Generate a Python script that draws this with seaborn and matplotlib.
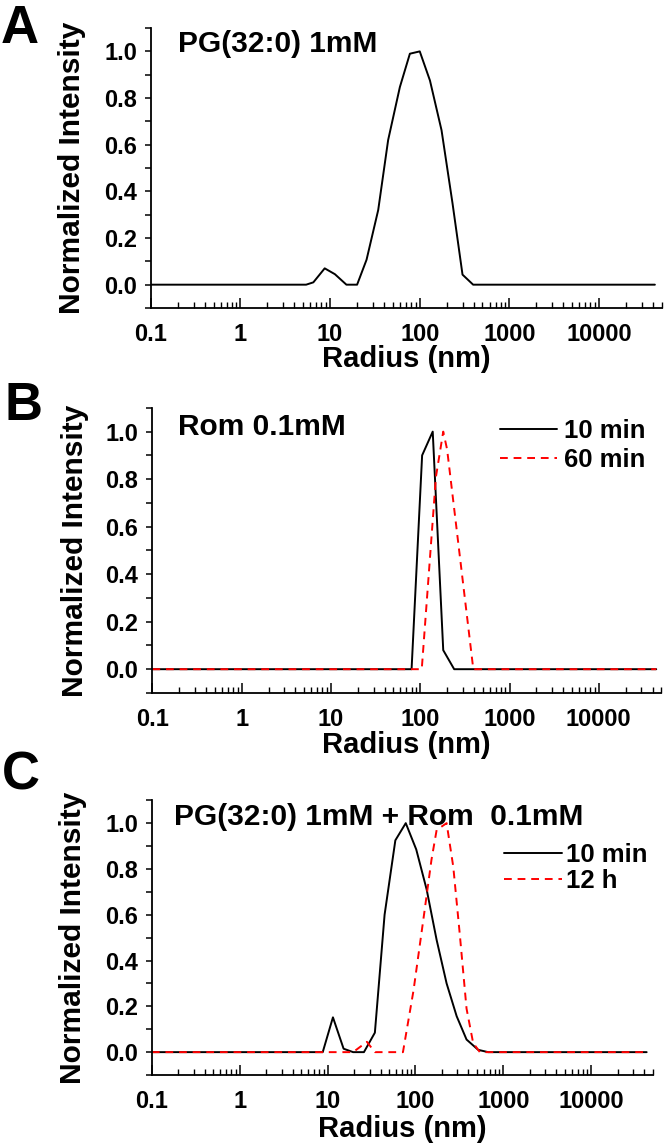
import matplotlib
matplotlib.use('Agg')
import matplotlib.pyplot as plt
import matplotlib.ticker as mticker
import seaborn as sns

# panel A: PG(32:0) 1mM
a_radius = [0.1, 5.4, 6.5, 8.7, 11.3, 15.2, 20, 25.5, 34.4, 44.4, 60, 77.6, 100, 130, 175, 232, 300, 394, 42000]
a_int = [0, 0, 0.01, 0.07, 0.045, 0, 0, 0.107, 0.32, 0.62, 0.847, 0.99, 1.0, 0.875, 0.662, 0.349, 0.043, 0, 0]

# panel B: Rom 0.1mM
b_radius_10 = [0.1, 80, 105, 138, 181, 240, 44000]
b_int_10 = [0, 0, 0.90, 1.0, 0.08, 0, 0]
b_radius_60 = [0.1, 104, 150, 181, 200, 393, 44000]
b_int_60 = [0, 0, 0.81, 1.0, 0.925, 0, 0]

# panel C: PG(32:0) 1mM + Rom 0.1mM
c_radius_10 = [0.1, 8.8, 11.5, 15.2, 19.5, 25.9, 34.5, 44.5, 59, 77.5, 102, 134, 174, 226, 294, 381, 517, 671, 42700]
c_int_10 = [0, 0, 0.152, 0.015, 0, 0, 0.085, 0.60, 0.925, 1.0, 0.885, 0.71, 0.49, 0.30, 0.157, 0.055, 0.01, 0, 0]
c_radius_12 = [0.1, 19.5, 28, 34.5, 72, 95, 125, 152, 174, 226, 269, 320, 381, 453, 540, 42700]
c_int_12 = [0, 0, 0.045, 0, 0, 0.27, 0.60, 0.84, 0.97, 1.0, 0.81, 0.51, 0.19, 0.04, 0, 0]

xticks = [0.1, 1, 10, 100, 1000, 10000]

sns.set_style('ticks')
plt.rcParams['font.family'] = ['Liberation Sans', 'DejaVu Sans']
plt.rcParams['font.weight'] = 'bold'
plt.rcParams['axes.labelweight'] = 'bold'
plt.rcParams['text.color'] = 'black'
plt.rcParams['axes.labelcolor'] = 'black'
plt.rcParams['xtick.color'] = 'black'
plt.rcParams['ytick.color'] = 'black'

W, H = 666, 1145
fig = plt.figure(figsize=(W / 100, H / 100), dpi=100)


def px(x, y):
    return x / W, 1 - y / H


def setup(ax, xlab_y, ylab_x):
    ax.set_xscale('log')
    ax.set_xlim(0.1, 5e4)
    ax.set_ylim(-0.1, 1.1)
    ax.xaxis.set_major_locator(mticker.FixedLocator(xticks))
    ax.xaxis.set_major_formatter(mticker.FuncFormatter(lambda v, p: f'{v:g}'))
    ax.xaxis.set_minor_locator(mticker.LogLocator(base=10, subs=range(2, 10), numticks=20))
    ax.xaxis.set_minor_formatter(mticker.NullFormatter())
    ax.yaxis.set_major_locator(mticker.MultipleLocator(0.2))
    ax.yaxis.set_minor_locator(mticker.MultipleLocator(0.1))
    ax.yaxis.set_major_formatter(mticker.FormatStrFormatter('%.1f'))
    for s in ['top', 'right']:
        ax.spines[s].set_visible(False)
    for s in ['left', 'bottom']:
        ax.spines[s].set_linewidth(1.3)
        ax.spines[s].set_color('black')
    ax.tick_params(axis='x', which='major', direction='in', length=7.5, width=1.1, pad=10.5,
                   labelsize=17, colors='black')
    ax.tick_params(axis='x', which='minor', direction='in', length=4, width=1.0, colors='black')
    ax.tick_params(axis='y', which='both', direction='out', length=4, width=1.1, pad=6,
                   labelsize=17, colors='black')
    for lab in ax.get_xticklabels() + ax.get_yticklabels():
        lab.set_fontweight('bold')
    ax.set_xlabel('Radius (nm)', fontsize=21, fontweight='bold', color='black')
    ax.set_ylabel('Normalized Intensity', fontsize=21.5, fontweight='bold', color='black')
    ax.xaxis.set_label_coords(0.5, xlab_y)
    ax.yaxis.set_label_coords(ylab_x, 0.5)
    ax.set_facecolor('white')


axA = fig.add_axes([0.2265, 0.731, 0.767, 0.2445])
sns.lineplot(x=a_radius, y=a_int, ax=axA, color='black', linewidth=1.4)
setup(axA, -0.132, -0.127)

axB = fig.add_axes([0.2288, 0.3948, 0.764, 0.249])
sns.lineplot(x=b_radius_10, y=b_int_10, ax=axB, color='black', linewidth=1.4, label='10 min')
sns.lineplot(x=b_radius_60, y=b_int_60, ax=axB, color='red', linewidth=1.4, label='60 min')
axB.lines[1].set_dashes((4, 3))
setup(axB, -0.132, -0.125)

axC = fig.add_axes([0.228, 0.0611, 0.752, 0.240])
sns.lineplot(x=c_radius_10, y=c_int_10, ax=axC, color='black', linewidth=1.4, label='10 min')
sns.lineplot(x=c_radius_12, y=c_int_12, ax=axC, color='red', linewidth=1.4, label='12 h')
axC.lines[1].set_dashes((4, 3))
setup(axC, -0.146, -0.130)

axB.legend(loc='upper left', bbox_to_anchor=px(500, 419), bbox_transform=fig.transFigure,
           frameon=False, borderpad=0, borderaxespad=0, handlelength=2.2, handletextpad=0.3,
           labelspacing=0.2, prop={'size': 18.5, 'weight': 'bold'})
axC.legend(loc='upper left', bbox_to_anchor=px(504, 843), bbox_transform=fig.transFigure,
           frameon=False, borderpad=0, borderaxespad=0, handlelength=2.25, handletextpad=0.15,
           labelspacing=0.08, prop={'size': 18.5, 'weight': 'bold'})

fig.text(*px(178, 52), 'PG(32:0) 1mM', fontsize=21.5, fontweight='bold', va='baseline')
fig.text(*px(178, 435), 'Rom 0.1mM', fontsize=21.5, fontweight='bold', va='baseline')
fig.text(*px(174, 825), 'PG(32:0) 1mM + Rom  0.1mM', fontsize=21.5, fontweight='bold', va='baseline')

fig.text(*px(1, 43), 'A', fontsize=38, fontweight='bold', va='baseline')
fig.text(*px(5, 420), 'B', fontsize=38, fontweight='bold', va='baseline')
fig.text(*px(2, 790), 'C', fontsize=38, fontweight='bold', va='baseline')

fig.savefig('out.png', dpi=100, facecolor='white')
